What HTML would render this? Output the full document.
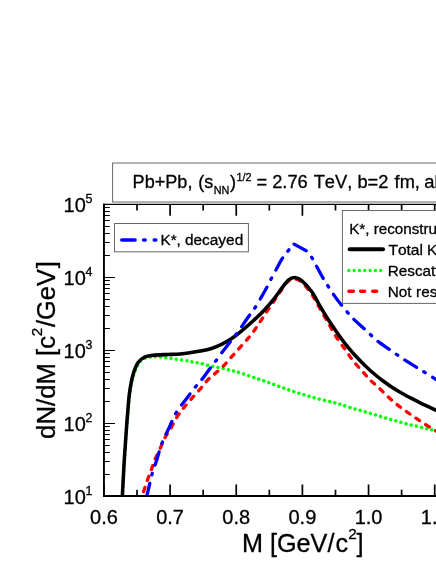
<!DOCTYPE html>
<html><head><meta charset="utf-8"><title>chart</title>
<style>
html,body{margin:0;padding:0;background:#fff;}
body{width:436px;height:564px;overflow:hidden;position:relative;}
svg{display:block;position:absolute;left:0;top:0;}
text{font-family:"Liberation Sans",sans-serif;fill:#000;font-kerning:none;font-feature-settings:"kern" 0;stroke:#000;stroke-width:0.3px;stroke-linejoin:round;}
svg{will-change:transform;transform:translateZ(0);}
</style></head><body>
<svg width="436" height="564" viewBox="0 0 436 564">
<rect width="436" height="564" fill="#fff"/>
<defs><clipPath id="pc"><rect x="103.95" y="204.4" width="400" height="291.6"/></clipPath></defs>
<g clip-path="url(#pc)" fill="none" stroke-linejoin="round" stroke-linecap="round">
<path d="M122.4 497.0 C122.7 491.7 123.5 475.3 124.1 465.0 C124.7 454.7 125.5 443.3 126.1 435.0 C126.7 426.7 127.1 421.9 127.7 415.0 C128.3 408.1 128.9 399.8 129.8 393.4 C130.7 386.9 131.9 381.2 133.3 376.3 C134.7 371.4 136.5 366.8 138.4 363.8 C140.3 360.8 142.1 359.7 144.5 358.5 C146.9 357.3 150.1 357.0 153.0 356.8 C155.9 356.6 159.5 357.0 162.0 357.2 C164.5 357.4 165.7 357.5 168.0 357.8 C170.3 358.1 172.4 358.7 175.8 359.2 C179.2 359.7 185.7 360.6 188.4 361.0 C191.1 361.4 190.1 361.5 192.1 361.9 C194.1 362.3 197.2 362.6 200.3 363.3 C203.4 364.0 207.2 365.2 210.7 366.0 C214.1 366.8 217.6 367.4 221.0 368.1 C224.4 368.8 228.1 369.6 231.3 370.4 C234.5 371.2 236.6 371.8 240.0 372.8 C243.4 373.9 247.7 375.4 251.5 376.7 C255.3 378.0 259.1 379.3 262.9 380.6 C266.7 381.9 270.6 383.3 274.4 384.7 C278.2 386.1 282.1 387.6 285.9 388.9 C289.7 390.2 293.5 391.5 297.3 392.7 C301.1 393.9 305.0 395.1 308.8 396.2 C312.6 397.3 316.5 398.4 320.3 399.4 C324.1 400.4 328.4 401.3 331.7 402.1 C335.0 402.9 336.8 403.4 340.0 404.3 C343.2 405.2 347.3 406.7 351.0 407.8 C354.7 408.9 358.3 409.8 362.0 410.9 C365.7 412.0 369.3 413.1 373.0 414.2 C376.7 415.3 380.3 416.4 384.0 417.5 C387.7 418.6 391.3 419.6 395.0 420.6 C398.7 421.6 402.3 422.8 406.0 423.7 C409.7 424.6 413.3 425.4 417.0 426.3 C420.7 427.2 424.5 428.2 428.0 429.0 C431.5 429.8 436.3 430.9 438.0 431.3" stroke="#00ff00" stroke-width="3.5" stroke-dasharray="0.01 5.3"/>
<path d="M141.8 497.0 C142.7 494.3 145.7 485.2 147.3 480.6 C148.9 476.0 150.1 473.0 151.4 469.5 C152.7 466.0 153.5 463.1 155.0 459.4 C156.5 455.7 158.9 451.2 160.6 447.5 C162.3 443.8 163.4 440.6 165.1 437.4 C166.8 434.2 168.7 431.9 170.7 428.5 C172.7 425.1 174.9 420.4 177.0 417.0 C179.1 413.6 181.0 411.2 183.3 408.3 C185.6 405.4 188.2 402.5 190.9 399.4 C193.6 396.3 196.9 392.8 199.7 389.6 C202.5 386.4 205.1 382.8 207.6 380.1 C210.1 377.5 212.2 376.0 214.8 373.7 C217.4 371.4 220.3 369.2 223.1 366.4 C225.8 363.6 228.6 360.2 231.3 357.1 C234.1 354.0 236.8 351.0 239.6 347.9 C242.4 344.8 245.3 341.7 247.9 338.6 C250.5 335.5 252.9 332.4 255.1 329.3 C257.3 326.2 259.2 323.1 261.3 320.0 C263.4 316.9 265.3 313.8 267.5 310.5 C269.7 307.2 272.4 303.4 274.5 300.3 C276.6 297.2 277.6 295.3 279.9 292.1 C282.2 288.9 285.8 283.4 288.2 281.2 C290.6 279.0 292.3 278.7 294.5 278.9 C296.7 279.1 298.8 279.7 301.6 282.2 C304.5 284.7 308.6 289.6 311.6 294.0 C314.6 298.4 317.1 303.8 319.8 308.5 C322.5 313.2 325.2 317.8 328.0 322.5 C330.8 327.2 333.4 332.4 336.3 337.0 C339.2 341.6 342.7 345.9 345.5 349.9 C348.3 353.9 350.4 357.4 353.2 360.9 C355.9 364.4 359.2 367.7 362.0 370.8 C364.8 373.9 366.9 376.8 369.7 379.6 C372.4 382.4 375.6 384.6 378.5 387.4 C381.4 390.2 384.4 393.4 387.4 396.2 C390.3 398.9 393.3 401.5 396.2 403.9 C399.1 406.3 402.1 408.4 405.0 410.5 C407.9 412.6 410.9 414.7 413.8 416.7 C416.7 418.7 419.7 420.7 422.6 422.6 C425.5 424.5 428.8 426.5 431.4 428.1 C434.0 429.7 436.9 431.5 438.0 432.2" stroke="#ff0000" stroke-width="3.3" stroke-dasharray="4.3 7.3" stroke-dashoffset="5.8"/>
<path d="M122.3 497.0 C122.6 491.7 123.4 475.3 124.0 465.0 C124.6 454.7 125.4 443.3 126.0 435.0 C126.6 426.7 126.9 422.0 127.5 415.0 C128.1 408.0 128.6 399.6 129.5 393.0 C130.4 386.4 131.4 380.5 132.8 375.5 C134.2 370.5 136.0 365.8 137.9 362.8 C139.8 359.8 141.7 358.6 144.2 357.3 C146.7 356.1 149.0 355.8 153.0 355.3 C157.0 354.8 163.7 354.7 168.2 354.5 C172.7 354.3 176.4 354.2 180.0 353.9 C183.6 353.6 186.6 353.2 190.0 352.7 C193.4 352.2 196.9 351.8 200.3 351.1 C203.8 350.4 207.2 349.8 210.7 348.7 C214.1 347.6 217.6 346.3 221.0 344.6 C224.4 342.9 227.9 341.0 231.3 338.7 C234.8 336.4 238.1 333.8 241.7 330.8 C245.3 327.9 249.3 324.4 253.0 321.0 C256.7 317.6 260.4 314.2 263.7 310.7 C267.0 307.2 269.9 304.0 273.0 300.2 C276.1 296.4 279.4 291.3 282.0 287.9 C284.6 284.5 286.5 281.5 288.6 279.8 C290.7 278.1 292.4 277.4 294.6 277.5 C296.8 277.6 298.8 278.2 301.7 280.6 C304.6 283.0 308.9 287.7 312.0 292.0 C315.1 296.3 317.4 301.7 320.2 306.4 C322.9 311.1 325.6 315.5 328.5 320.0 C331.4 324.5 334.5 328.9 337.5 333.2 C340.5 337.5 343.6 341.8 346.7 345.6 C349.8 349.4 352.8 352.9 355.9 356.2 C359.0 359.5 362.1 362.7 365.2 365.7 C368.3 368.7 371.2 371.4 374.3 374.0 C377.4 376.6 380.4 379.0 383.5 381.3 C386.6 383.6 389.6 385.8 392.7 387.8 C395.8 389.8 398.8 391.5 401.9 393.2 C404.9 394.9 407.9 396.6 411.0 398.2 C414.1 399.8 417.1 401.3 420.2 402.8 C423.3 404.3 426.4 405.8 429.4 407.2 C432.4 408.6 436.6 410.5 438.0 411.2" stroke="#000" stroke-width="3.55"/>
<path d="M146.6 497.0 C147.6 493.0 150.7 479.0 152.3 473.2 C153.9 467.4 154.3 467.4 156.0 462.2 C157.7 457.0 160.2 447.7 162.4 442.0 C164.6 436.3 166.8 432.8 169.0 428.0 C171.2 423.2 173.0 418.1 175.8 413.3 C178.6 408.5 182.8 403.6 185.9 399.4 C189.1 395.1 192.1 391.0 194.7 387.8 C197.3 384.6 198.7 383.5 201.4 380.1 C204.1 376.7 208.3 370.7 210.7 367.5 C213.1 364.3 213.7 363.6 215.8 360.9 C217.9 358.1 220.7 354.2 223.1 351.0 C225.5 347.8 228.1 344.5 230.3 341.7 C232.5 338.9 234.4 336.8 236.5 334.0 C238.6 331.2 240.5 328.3 242.7 325.1 C244.9 321.9 247.8 317.7 249.9 314.8 C252.0 311.9 253.2 310.5 255.1 307.6 C257.0 304.7 259.6 300.1 261.3 297.2 C263.0 294.3 263.8 292.9 265.4 290.0 C267.0 287.1 268.8 283.2 270.7 279.6 C272.6 276.0 275.0 271.6 276.9 268.2 C278.8 264.8 280.1 261.8 282.0 258.9 C283.9 256.0 286.2 253.2 288.2 250.7 C290.2 248.2 292.9 245.1 293.8 244.0" stroke="#0000ff" stroke-width="3.3" stroke-dasharray="13.9 8.6 1.7 8.8"/>
<path d="M293.8 244 L306.2 250.7 C307.2 251.9 310.2 255.1 312.0 257.9 C313.8 260.6 315.2 263.8 317.1 267.2 C319.0 270.6 321.4 275.3 323.3 278.6 C325.2 281.9 326.6 283.9 328.5 286.8 C330.4 289.7 332.8 293.4 334.7 296.1 C336.6 298.9 338.0 300.8 340.0 303.3 C342.0 305.8 344.4 308.7 346.6 311.3 C348.8 313.9 350.1 315.6 353.2 318.7 C356.3 321.8 361.3 326.0 365.3 329.7 C369.3 333.4 373.2 337.5 377.4 340.9 C381.6 344.3 386.1 347.1 390.7 350.3 C395.3 353.5 400.4 357.2 405.0 360.2 C409.6 363.2 413.8 365.6 418.2 368.3 C422.6 371.0 428.1 374.4 431.4 376.5 C434.7 378.6 436.9 380.1 438.0 380.8" stroke="#0000ff" stroke-width="3.3" stroke-dasharray="13.8 8.5 1.7 8.6" stroke-dashoffset="-0.3"/>
</g>
<!-- axes -->
<path d="M103.95 203.85 V496.0 H440" fill="none" stroke="#000" stroke-width="1.9" stroke-linejoin="miter"/>
<path d="M103.0 204.4 H440" fill="none" stroke="#000" stroke-width="1.2"/>
<path d="M103.95 496.00 v-11.4 M103.95 204.40 v11.4 M137.03 496.00 v-6.2 M137.03 204.40 v6.2 M170.10 496.00 v-11.4 M170.10 204.40 v11.4 M203.18 496.00 v-6.2 M203.18 204.40 v6.2 M236.25 496.00 v-11.4 M236.25 204.40 v11.4 M269.32 496.00 v-6.2 M269.32 204.40 v6.2 M302.40 496.00 v-11.4 M302.40 204.40 v11.4 M335.48 496.00 v-6.2 M335.48 204.40 v6.2 M368.55 496.00 v-11.4 M368.55 204.40 v11.4 M401.62 496.00 v-6.2 M401.62 204.40 v6.2 M434.70 496.00 v-11.4 M434.70 204.40 v11.4" fill="none" stroke="#000" stroke-width="1.7"/>
<path d="M103.95 496.50 h11.1 M103.95 474.50 h5.9 M103.95 461.50 h5.9 M103.95 452.50 h5.9 M103.95 445.50 h5.9 M103.95 439.50 h5.9 M103.95 434.50 h5.9 M103.95 430.50 h5.9 M103.95 426.50 h5.9 M103.95 423.50 h11.1 M103.95 401.50 h5.9 M103.95 388.50 h5.9 M103.95 379.50 h5.9 M103.95 372.50 h5.9 M103.95 366.50 h5.9 M103.95 361.50 h5.9 M103.95 357.50 h5.9 M103.95 353.50 h5.9 M103.95 350.50 h11.1 M103.95 328.50 h5.9 M103.95 315.50 h5.9 M103.95 306.50 h5.9 M103.95 299.50 h5.9 M103.95 293.50 h5.9 M103.95 288.50 h5.9 M103.95 284.50 h5.9 M103.95 280.50 h5.9 M103.95 277.50 h11.1 M103.95 255.50 h5.9 M103.95 242.50 h5.9 M103.95 233.50 h5.9 M103.95 226.50 h5.9 M103.95 220.50 h5.9 M103.95 215.50 h5.9 M103.95 211.50 h5.9 M103.95 207.50 h5.9 M103.95 204.50 h11.1" fill="none" stroke="#000" stroke-width="1.08"/>
<!-- title box -->
<rect x="112.6" y="163" width="340" height="39" fill="#fff" stroke="#666" stroke-width="1"/>
<text x="132.6" y="188" font-size="18.1">Pb+Pb,</text>
<text x="198.2" y="188" font-size="18.1">(s</text>
<text x="213.8" y="194.3" font-size="10.8">NN</text>
<text x="230" y="188" font-size="18.1">)</text>
<text x="236.6" y="180.6" font-size="10.8">1/2</text>
<text x="256.4" y="188" font-size="18.3">=</text>
<text x="272.2" y="188" font-size="18.3">2.76</text>
<text x="313.7" y="188" font-size="18.3">TeV,</text>
<text x="357.4" y="188" font-size="18.3">b=2</text>
<text x="394.6" y="188" font-size="18.2">fm,</text>
<text x="424.2" y="188" font-size="18.4">all</text>
<!-- legend 1 -->
<rect x="114.5" y="223.5" width="133.9" height="28.3" fill="#fff" stroke="#666" stroke-width="1"/>
<path d="M121.8 239.9 H135.1 M143.6 239.9 H145.2 M154.2 239.9 H155.8" stroke="#0000ff" stroke-width="3.5" stroke-linecap="round" fill="none"/>
<text x="160.5" y="245.4" font-size="15.2">K*,</text><text x="185" y="245.4" font-size="15.4">decayed</text>
<!-- legend 2 -->
<rect x="342.4" y="210.55" width="120" height="92.85" fill="#fff" stroke="#666" stroke-width="1"/>
<text x="349.2" y="233.8" font-size="15.2">K*, reconstructed</text>
<path d="M349.7 249.3 H383" stroke="#000" stroke-width="4.1" stroke-linecap="round" fill="none"/>
<path d="M348.8 270.5 H381.2" stroke="#00ff00" stroke-width="3.4" stroke-linecap="round" stroke-dasharray="0.01 5.31" fill="none"/>
<path d="M348.9 291.2 H353.4 M360.6 291.2 H364.7 M372.7 291.2 H376.7" stroke="#ff0000" stroke-width="3.4" stroke-linecap="round" fill="none"/>
<text x="388.4" y="254.9" font-size="15.55">Total</text><text x="427" y="254.9" font-size="15.3">K*</text>
<text x="387.7" y="275.6" font-size="15.3">Rescattered</text>
<text x="387.8" y="296.5" font-size="15.3">Not</text><text x="416.1" y="296.5" font-size="15.3">rescattered</text>
<!-- axis labels -->
<text x="63.6" y="503.7" font-size="20">10</text><text x="85.4" y="494.5" font-size="12.4">1</text>
<text x="63.6" y="430.8" font-size="20">10</text><text x="85.4" y="421.6" font-size="12.4">2</text>
<text x="63.6" y="357.9" font-size="20">10</text><text x="85.4" y="348.7" font-size="12.4">3</text>
<text x="63.6" y="285.0" font-size="20">10</text><text x="85.4" y="275.8" font-size="12.4">4</text>
<text x="63.6" y="212.1" font-size="20">10</text><text x="85.4" y="202.9" font-size="12.4">5</text>

<text x="104.0" y="524.2" font-size="20" text-anchor="middle">0.6</text>
<text x="170.1" y="524.2" font-size="20" text-anchor="middle">0.7</text>
<text x="236.2" y="524.2" font-size="20" text-anchor="middle">0.8</text>
<text x="302.4" y="524.2" font-size="20" text-anchor="middle">0.9</text>
<text x="368.6" y="524.2" font-size="20" text-anchor="middle">1.0</text>
<text x="434.7" y="524.2" font-size="20" text-anchor="middle">1.1</text>

<text x="242" y="552" font-size="25.2">M [GeV/</text><text x="335.4" y="552" font-size="25.2">c</text>
<text x="348.2" y="539.2" font-size="15.4">2</text>
<text x="356.6" y="552" font-size="25.4">]</text>
<g transform="translate(55.4 438.9) rotate(-90)">
<text x="0" y="0" font-size="25.75">dN/dM [c</text>
<text x="102.6" y="-13.3" font-size="15.2">2</text>
<text x="111.9" y="0" font-size="25.4">/GeV</text>
<text x="170.7" y="0" font-size="25.4">]</text>
</g>
</svg>
</body></html>
